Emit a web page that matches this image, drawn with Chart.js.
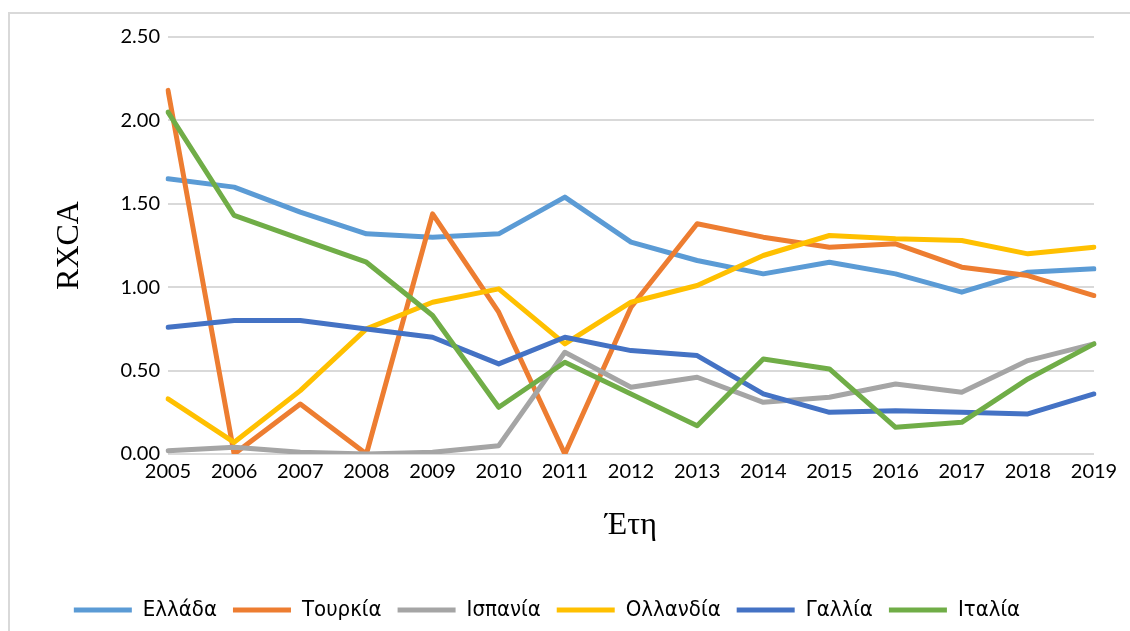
<!DOCTYPE html>
<html>
<head>
    <title>RXCA</title>
    <script src="https://cdn.jsdelivr.net/npm/chart.js"></script>
    <style>
        html, body { margin: 0; padding: 0; background: #fff; }
        #wrap { width: 1130px; height: 631px; }
    </style>
</head>
<body>
    <div id="wrap"><canvas id="rxcaChart" width="1130" height="631"></canvas></div>

    <script>
        // Data
        const years = ['2005', '2006', '2007', '2008', '2009', '2010', '2011', '2012',
                       '2013', '2014', '2015', '2016', '2017', '2018', '2019'];

        const greece      = [1.65, 1.60, 1.45, 1.32, 1.30, 1.32, 1.54, 1.27, 1.16, 1.08, 1.15, 1.08, 0.97, 1.09, 1.11];
        const turkey      = [2.18, 0.00, 0.30, 0.00, 1.44, 0.85, 0.00, 0.88, 1.38, 1.30, 1.24, 1.26, 1.12, 1.07, 0.95];
        const spain       = [0.02, 0.04, 0.01, 0.00, 0.01, 0.05, 0.61, 0.40, 0.46, 0.31, 0.34, 0.42, 0.37, 0.56, 0.66];
        const netherlands = [0.33, 0.07, 0.38, 0.75, 0.91, 0.99, 0.66, 0.91, 1.01, 1.19, 1.31, 1.29, 1.28, 1.20, 1.24];
        const france      = [0.76, 0.80, 0.80, 0.75, 0.70, 0.54, 0.70, 0.62, 0.59, 0.36, 0.25, 0.26, 0.25, 0.24, 0.36];
        const italy       = [2.05, 1.43, 1.29, 1.15, 0.83, 0.28, 0.55, 0.36, 0.17, 0.57, 0.51, 0.16, 0.19, 0.45, 0.66];

        const seriesNames = ['Ελλάδα', 'Τουρκία', 'Ισπανία', 'Ολλανδία', 'Γαλλία', 'Ιταλία'];
        const seriesData = [greece, turkey, spain, netherlands, france, italy];
        const seriesColors = ['#5B9BD5', '#ED7D31', '#A5A5A5', '#FFC000', '#4472C4', '#70AD47'];

        // white background + the light grey frame of the chart area
        const frame = {
            id: 'frame',
            beforeDraw(chart) {
                const ctx = chart.ctx;
                ctx.save();
                ctx.fillStyle = '#fff';
                ctx.fillRect(0, 0, chart.width, chart.height);
                ctx.strokeStyle = '#d9d9d9';
                ctx.lineWidth = 2;
                ctx.strokeRect(9, 13, 1300, 800);
                ctx.restore();
            }
        };

        const datasets = seriesNames.map((name, i) => ({
            label: name,
            data: seriesData[i],
            borderColor: seriesColors[i],
            backgroundColor: seriesColors[i],
            borderWidth: 5,
            borderJoinStyle: 'round',
            borderCapStyle: 'round',
            pointRadius: 0,
            tension: 0,
            fill: false,
            order: seriesNames.length - i   // later series drawn on top, like Excel
        }));

        const ctx = document.getElementById('rxcaChart').getContext('2d');
        const chart = new Chart(ctx, {
            type: 'line',
            data: { labels: years, datasets: datasets },
            plugins: [frame],
            options: {
                responsive: false,
                animation: false,
                layout: { padding: { top: 37, right: 36, bottom: 0, left: 0 } },
                plugins: {
                    tooltip: { enabled: false },
                    legend: {
                        position: 'bottom',
                        labels: {
                            font: { family: "'Liberation Sans Narrow', 'Arial Narrow', 'DejaVu Sans Condensed', sans-serif", size: 22 },
                            color: '#000',
                            boxWidth: 58,
                            boxHeight: 5,
                            padding: 16,
                            sort: (a, b) => a.datasetIndex - b.datasetIndex,
                            generateLabels(chart) {
                                const items = Chart.defaults.plugins.legend.labels.generateLabels(chart);
                                items.forEach(it => { it.lineWidth = 0; });
                                return items;
                            }
                        }
                    }
                },
                scales: {
                    x: {
                        offset: false,
                        grid: { display: false, drawTicks: false },
                        border: { display: false },
                        ticks: {
                            font: { family: 'Lato', size: 20 },
                            color: '#000',
                            maxRotation: 0,
                            autoSkip: false,
                            padding: 6
                        },
                        title: {
                            display: true,
                            text: 'Έτη',
                            font: { family: "'Liberation Serif', serif", size: 32 },
                            color: '#000',
                            padding: { top: 0, bottom: 38 }
                        },
                        afterFit(scale) { scale.height = 129; }
                    },
                    y: {
                        min: 0,
                        max: 2.5,
                        grid: { color: '#d9d9d9', lineWidth: 2, drawTicks: false },
                        border: { display: false },
                        ticks: {
                            stepSize: 0.5,
                            font: { family: 'Lato', size: 20 },
                            color: '#000',
                            padding: 8,
                            callback: v => v.toFixed(2)
                        },
                        title: {
                            display: true,
                            text: 'RXCA',
                            font: { family: "'Liberation Serif', serif", size: 32 },
                            color: '#000',
                            padding: { top: 50, bottom: 0 }
                        },
                        afterFit(scale) { scale.width = 168; }
                    }
                }
            }
        });
    </script>
</body>
</html>
